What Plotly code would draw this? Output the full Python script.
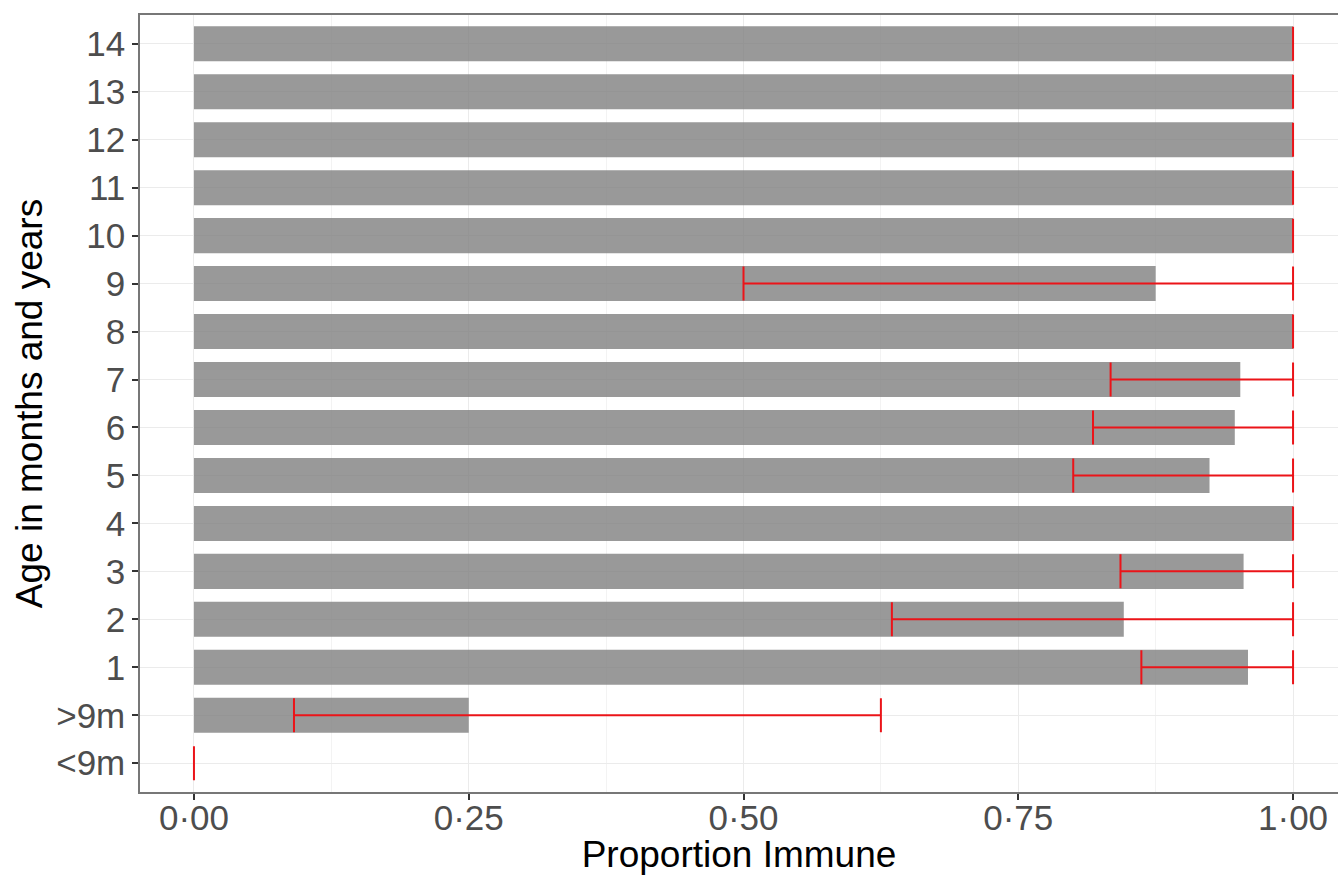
import plotly.graph_objects as go

categories = ["<9m", ">9m", "1", "2", "3", "4", "5", "6", "7", "8", "9", "10", "11", "12", "13", "14"]
proportion = [0.0, 0.25, 0.959, 0.846, 0.955, 1.0, 0.924, 0.947, 0.952, 1.0, 0.875, 1.0, 1.0, 1.0, 1.0, 1.0]
lower_ci = [0.0, 0.091, 0.862, 0.635, 0.843, 1.0, 0.80, 0.818, 0.834, 1.0, 0.50, 1.0, 1.0, 1.0, 1.0, 1.0]
upper_ci = [0.0, 0.625, 1.0, 1.0, 1.0, 1.0, 1.0, 1.0, 1.0, 1.0, 1.0, 1.0, 1.0, 1.0, 1.0, 1.0]

x_tickvals = [0, 0.25, 0.5, 0.75, 1.0]
x_ticktext = ["0\u00b700", "0\u00b725", "0\u00b750", "0\u00b775", "1\u00b700"]
x_minor = [0.125, 0.375, 0.625, 0.875]

err_plus = [u - p for u, p in zip(upper_ci, proportion)]
err_minus = [p - l for p, l in zip(proportion, lower_ci)]

fig = go.Figure()
fig.add_trace(go.Bar(
    y=categories, x=proportion, orientation="h", width=0.73,
    marker=dict(color="rgba(127,127,127,0.8)", line=dict(width=0)),
    error_x=dict(type="data", symmetric=False, array=err_plus, arrayminus=err_minus,
                 color="rgb(235,20,25)", thickness=2, width=17),
    showlegend=False,
))

fig.update_layout(
    width=1339, height=875,
    margin=dict(l=140, r=1, t=15, b=83),
    paper_bgcolor="white", plot_bgcolor="white",
    font=dict(family="Liberation Sans, Arial, sans-serif", color="black"),
)
fig.update_xaxes(
    range=[-0.0491, 1.0409],
    tickvals=x_tickvals, ticktext=x_ticktext,
    tickfont=dict(size=35, color="#4d4d4d"),
    ticks="outside", ticklen=6, tickcolor="#333333", tickwidth=1.5,
    ticklabelstandoff=-12,
    showgrid=True, gridcolor="#ebebeb", gridwidth=1.2,
    minor=dict(tickvals=x_minor, showgrid=True, gridcolor="#f3f3f3", gridwidth=1, ticks=""),
    zeroline=False,
    showline=True, linecolor="#777777", linewidth=1.5, mirror=True,
    title=dict(text="Proportion Immune", font=dict(size=37, color="black"), standoff=4),
    automargin=False,
)
fig.update_yaxes(
    type="category", categoryorder="array", categoryarray=categories,
    range=[-0.6, 15.6],
    tickfont=dict(size=35, color="#4d4d4d"),
    ticks="outside", ticklen=6, tickcolor="#333333", tickwidth=1.5,
    showgrid=True, gridcolor="#ebebeb", gridwidth=1.2,
    zeroline=False,
    showline=True, linecolor="#777777", linewidth=1.5, mirror=False,
    title=dict(text="Age in months and years", font=dict(size=37, color="black"), standoff=2),
    automargin=False,
)

fig.write_html(
    "out.html",
    config={"displayModeBar": False},
    post_script="document.body.style.margin='0';document.body.style.overflow='hidden';",
)
